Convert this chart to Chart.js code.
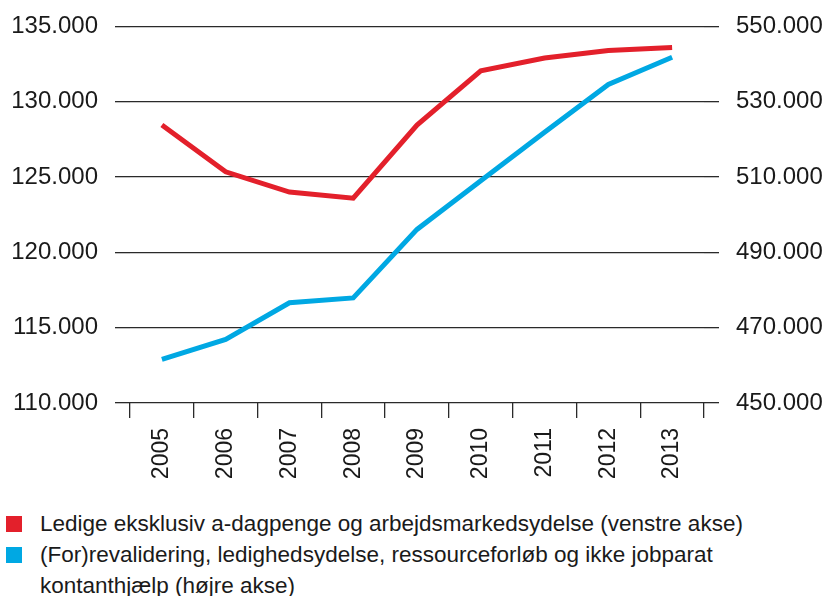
<!DOCTYPE html>
<html lang="da">
<head>
    <meta charset="UTF-8">
    <title>Ledige og (for)revalidering</title>
    <script src="https://cdn.jsdelivr.net/npm/chart.js"></script>
    <style>
        body { margin: 0; background: #fff; font-family: "Liberation Sans", Arial, sans-serif; color: #1a1a1a; }
        #wrap { position: relative; width: 828px; height: 596px; overflow: hidden; }
        #chart { position: absolute; left: 0; top: -5px; }
        #legend { position: absolute; left: 0; top: 508px; width: 780px; font-size: 22.5px; line-height: 31px; }
        .item { position: relative; padding-left: 40px; }
        .box { position: absolute; left: 6px; top: 8px; width: 16px; height: 16px; }
    </style>
</head>
<body>
<div id="wrap">
    <canvas id="chart" width="828" height="500"></canvas>
    <div id="legend"></div>
</div>
<script>
    const years = ['2005', '2006', '2007', '2008', '2009', '2010', '2011', '2012', '2013'];
    // venstre akse
    const ledige = [128450, 125350, 124000, 123600, 128450, 132050, 132900, 133400, 133600];
    // højre akse
    const revalidering = [461600, 466900, 476600, 477900, 496100, 509000, 521900, 534600, 541800];

    const labelRed = 'Ledige eksklusiv a-dagpenge og arbejdsmarkedsydelse (venstre akse)';
    const labelBlue = '(For)revalidering, ledighedsydelse, ressourceforløb og ikke jobparat kontanthjælp (højre akse)';

    const red = '#e3202b';
    const blue = '#00a8e3';
    const ink = '#1a1a1a';
    const gridCol = '#2a2a2a';

    const fmt = v => String(v).replace(/\B(?=(\d{3})+(?!\d))/g, '.');

    new Chart(document.getElementById('chart'), {
        type: 'line',
        data: {
            labels: years,
            datasets: [
                { label: labelRed, data: ledige, yAxisID: 'y', borderColor: red, borderWidth: 5, pointRadius: 0, tension: 0 },
                { label: labelBlue, data: revalidering, yAxisID: 'y1', borderColor: blue, borderWidth: 5, pointRadius: 0, tension: 0 }
            ]
        },
        options: {
            responsive: false,
            animation: false,
            devicePixelRatio: 1,
            layout: { padding: { top: 20, bottom: 0, left: 0, right: 0 } },
            plugins: { legend: { display: false }, tooltip: { enabled: false } },
            scales: {
                x: {
                    offset: true,
                    border: { display: false },
                    grid: { offset: true, drawOnChartArea: false, tickLength: 15, color: gridCol, lineWidth: 1.3 },
                    ticks: { color: ink, font: { family: 'Liberation Sans', size: 23 }, minRotation: 90, maxRotation: 90, padding: 10 },
                    afterFit: s => { s.height = 92; }
                },
                y: {
                    position: 'left',
                    min: 110000, max: 135000,
                    border: { display: false },
                    grid: { color: gridCol, lineWidth: 1.3, tickLength: 15 },
                    ticks: { stepSize: 5000, color: ink, font: { family: 'Liberation Sans', size: 24 }, padding: 17, callback: fmt },
                    afterFit: s => { s.width = 130; }
                },
                y1: {
                    position: 'right',
                    min: 450000, max: 550000,
                    border: { display: false },
                    grid: { drawOnChartArea: false, color: gridCol, lineWidth: 1.3, tickLength: 15 },
                    ticks: { stepSize: 20000, color: ink, font: { family: 'Liberation Sans', size: 24 }, padding: 17, callback: fmt },
                    afterFit: s => { s.width = 124; }
                }
            }
        }
    });

    const legend = document.getElementById('legend');
    [[red, labelRed], [blue, labelBlue]].forEach(([c, t]) => {
        const d = document.createElement('div');
        d.className = 'item';
        d.innerHTML = '<span class="box" style="background:' + c + '"></span>' + t;
        legend.appendChild(d);
    });
</script>
</body>
</html>
